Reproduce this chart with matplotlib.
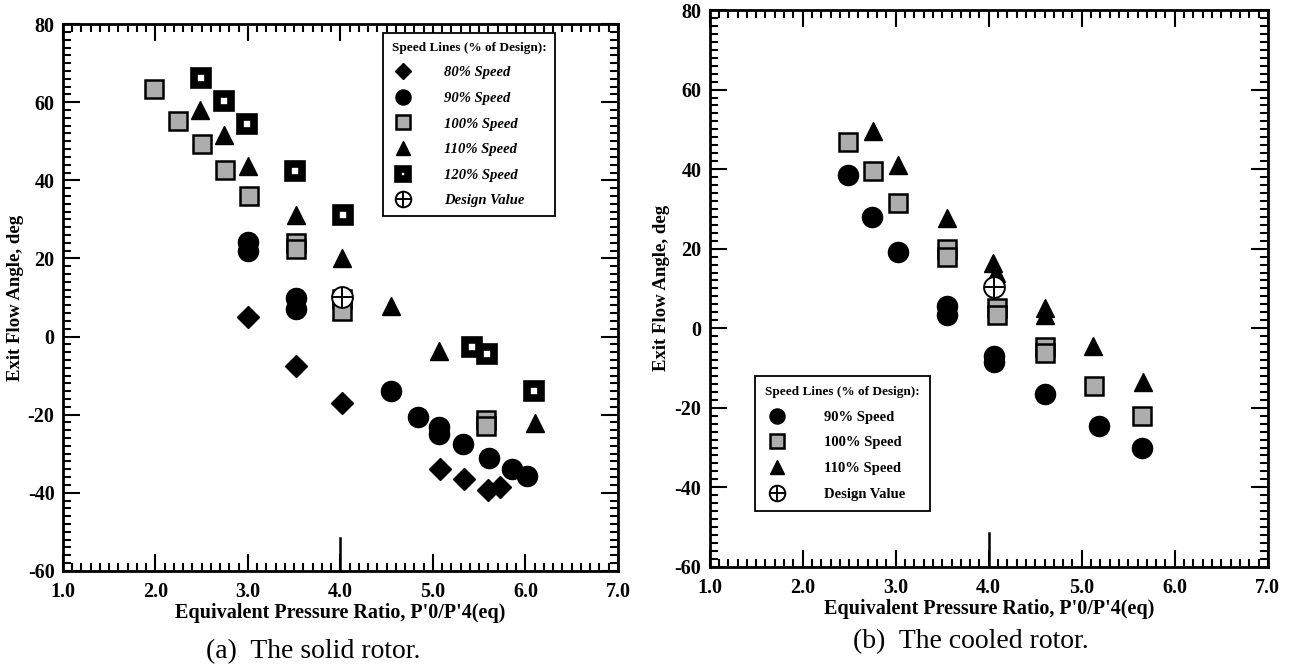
import matplotlib.pyplot as plt
from matplotlib.lines import Line2D

plt.rcParams['font.family'] = ['Liberation Serif', 'DejaVu Serif']
plt.rcParams['axes.unicode_minus'] = False

# (a) solid rotor
a80_x = [3.00, 3.52, 4.02, 5.08, 5.34, 5.60, 5.73]
a80_y = [5.0, -7.6, -17.0, -34.0, -36.6, -39.2, -38.6]
a90_x = [3.00, 3.00, 3.52, 3.52, 4.55, 4.84, 5.07, 5.07, 5.33, 5.61, 5.85, 6.02]
a90_y = [24.3, 22.0, 9.8, 7.0, -14.0, -20.5, -23.2, -25.0, -27.4, -31.0, -34.0, -35.8]
a100_x = [1.98, 2.24, 2.50, 2.75, 3.01, 3.52, 3.52, 4.02, 4.02, 5.57, 5.57]
a100_y = [63.5, 55.2, 49.2, 42.6, 36.0, 24.0, 22.5, 9.5, 6.5, -21.5, -23.0]
a110_x = [2.48, 2.74, 3.00, 3.52, 4.02, 4.55, 5.07, 6.10]
a110_y = [58.0, 51.6, 43.7, 31.0, 20.2, 7.8, -3.7, -22.2]
a120_x = [2.49, 2.74, 2.99, 3.51, 4.03, 5.42, 5.58, 6.09]
a120_y = [66.3, 60.2, 54.3, 42.4, 31.2, -2.8, -4.4, -14.0]
a_design = (4.02, 10.0)

# (b) cooled rotor
b90_x = [2.49, 2.75, 3.02, 3.55, 3.55, 4.06, 4.06, 4.60, 5.18, 5.65]
b90_y = [38.5, 28.0, 19.2, 5.5, 3.3, -7.0, -8.4, -16.5, -24.7, -30.0]
b100_x = [2.49, 2.76, 3.02, 3.55, 3.55, 4.09, 4.09, 4.60, 4.60, 5.13, 5.65]
b100_y = [46.8, 39.6, 31.5, 19.8, 17.8, 5.0, 3.4, -4.8, -6.2, -14.6, -22.2]
b110_x = [2.76, 3.03, 3.55, 4.05, 4.08, 4.60, 4.60, 5.12, 5.66]
b110_y = [49.6, 41.0, 27.6, 16.3, 14.0, 5.0, 3.4, -4.6, -13.6]
b_design = (4.06, 10.3)

xticks = [1, 2, 3, 4, 5, 6, 7]
xtick_labels = ['1.0', '2.0', '3.0', '4.0', '5.0', '6.0', '7.0']
yticks = [-60, -40, -20, 0, 20, 40, 60, 80]

s80 = dict(marker='D', ms=11.5, mfc='black', mec='black', ls='none')
s90 = dict(marker='o', ms=14.5, mfc='black', mec='black', ls='none')
s100 = dict(marker='s', ms=13.5, mfc='#adadad', mec='black', mew=1.8, ls='none')
s110 = dict(marker='^', ms=13.5, mfc='black', mec='black', ls='none')
s120 = dict(marker='s', ms=10.5, mfc='white', mec='black', mew=5.5, ls='none')
sdes_o = dict(marker='o', ms=15, mfc='white', mec='black', mew=1.4, ls='none')
sdes_p = dict(marker='+', ms=15, mec='black', mew=1.4, ls='none')

fig = plt.figure(figsize=(12.95, 6.70), dpi=100)
ax1 = fig.add_axes([0.0486, 0.148, 0.4286, 0.816])
ax2 = fig.add_axes([0.548, 0.154, 0.431, 0.831])


def style_axes(ax):
    ax.set_xlim(1, 7)
    ax.set_ylim(-60, 80)
    ax.set_xticks(xticks)
    ax.set_xticklabels(xtick_labels)
    ax.set_yticks(yticks)
    ax.set_xticks([1 + 0.1 * i for i in range(61)], minor=True)
    ax.set_yticks(list(range(-60, 81, 2)), minor=True)
    ax.tick_params(which='both', direction='in', top=True, right=True, width=1.5)
    ax.tick_params(which='major', length=12)
    ax.tick_params(which='minor', length=6)
    ax.tick_params(axis='x', which='major', pad=8, labelsize=14.5)
    ax.tick_params(axis='y', which='major', pad=6, labelsize=14.5)
    for lab in ax.get_xticklabels() + ax.get_yticklabels():
        lab.set_fontweight('bold')
    for sp in ax.spines.values():
        sp.set_linewidth(2)
    # long tick at 4.0
    ax.axvline(4.0, ymin=0, ymax=0.06, color='black', lw=1.8)
    ax.set_xlabel("Equivalent Pressure Ratio, P'0/P'4(eq)", fontsize=14.5,
                  fontweight='bold', labelpad=1)
    ax.set_ylabel('Exit Flow Angle, deg', fontsize=13.5, fontweight='bold',
                  labelpad=3)


style_axes(ax1)
style_axes(ax2)

# panel (a)
ax1.plot(a80_x, a80_y, **s80)
ax1.plot(a90_x, a90_y, **s90)
ax1.plot(a100_x, a100_y, **s100)
ax1.plot(a110_x, a110_y, **s110)
ax1.plot(a120_x, a120_y, **s120)
ax1.plot([a_design[0]], [a_design[1]], **sdes_o)
ax1.plot([a_design[0]], [a_design[1]], **sdes_p)

h = [Line2D([], [], **s80), Line2D([], [], **s90), Line2D([], [], **s100),
     Line2D([], [], **s110), Line2D([], [], **s120),
     (Line2D([], [], **sdes_o), Line2D([], [], **sdes_p))]
labs = ['80% Speed', '90% Speed', '100% Speed', '110% Speed', '120% Speed',
        'Design Value']
leg = ax1.legend(h, labs, loc='upper left', bbox_to_anchor=(383 / 1295, 1 - 33 / 670),
                 bbox_transform=fig.transFigure, borderaxespad=0,
                 title='Speed Lines (% of Design):',
                 prop={'size': 10.5, 'weight': 'bold', 'style': 'italic'},
                 title_fontproperties={'size': 9.5, 'weight': 'bold'},
                 alignment='left', markerscale=0.75, labelspacing=0.85,
                 handletextpad=2.0, handlelength=1.6, borderpad=0.6,
                 fancybox=False, framealpha=1, edgecolor='black')
leg.get_frame().set_linewidth(1.3)

# panel (b)
ax2.plot(b90_x, b90_y, **s90)
ax2.plot(b100_x, b100_y, **s100)
ax2.plot(b110_x, b110_y, **s110)
ax2.plot([b_design[0]], [b_design[1]], **sdes_o)
ax2.plot([b_design[0]], [b_design[1]], **sdes_p)

h2 = [Line2D([], [], **s90), Line2D([], [], **s100), Line2D([], [], **s110),
      (Line2D([], [], **sdes_o), Line2D([], [], **sdes_p))]
labs2 = ['90% Speed', '100% Speed', '110% Speed', 'Design Value']
leg2 = ax2.legend(h2, labs2, loc='upper left', bbox_to_anchor=(755 / 1295, 1 - 376 / 670),
                  bbox_transform=fig.transFigure, borderaxespad=0,
                  title='Speed Lines (% of Design):',
                  prop={'size': 10.5, 'weight': 'bold'},
                  title_fontproperties={'size': 9.5, 'weight': 'bold'},
                  alignment='left', markerscale=0.75, labelspacing=0.85,
                  handletextpad=2.4, handlelength=1.6, borderpad=0.7,
                  fancybox=False, framealpha=1, edgecolor='black')
leg2.get_frame().set_linewidth(1.3)

fig.text(206 / 1295, 1 - 652 / 670, '(a)  The solid rotor.', fontsize=20,
         ha='left', va='center')
fig.text(853 / 1295, 1 - 642 / 670, '(b)  The cooled rotor.', fontsize=20,
         ha='left', va='center')

fig.savefig('out.png', dpi=100)
